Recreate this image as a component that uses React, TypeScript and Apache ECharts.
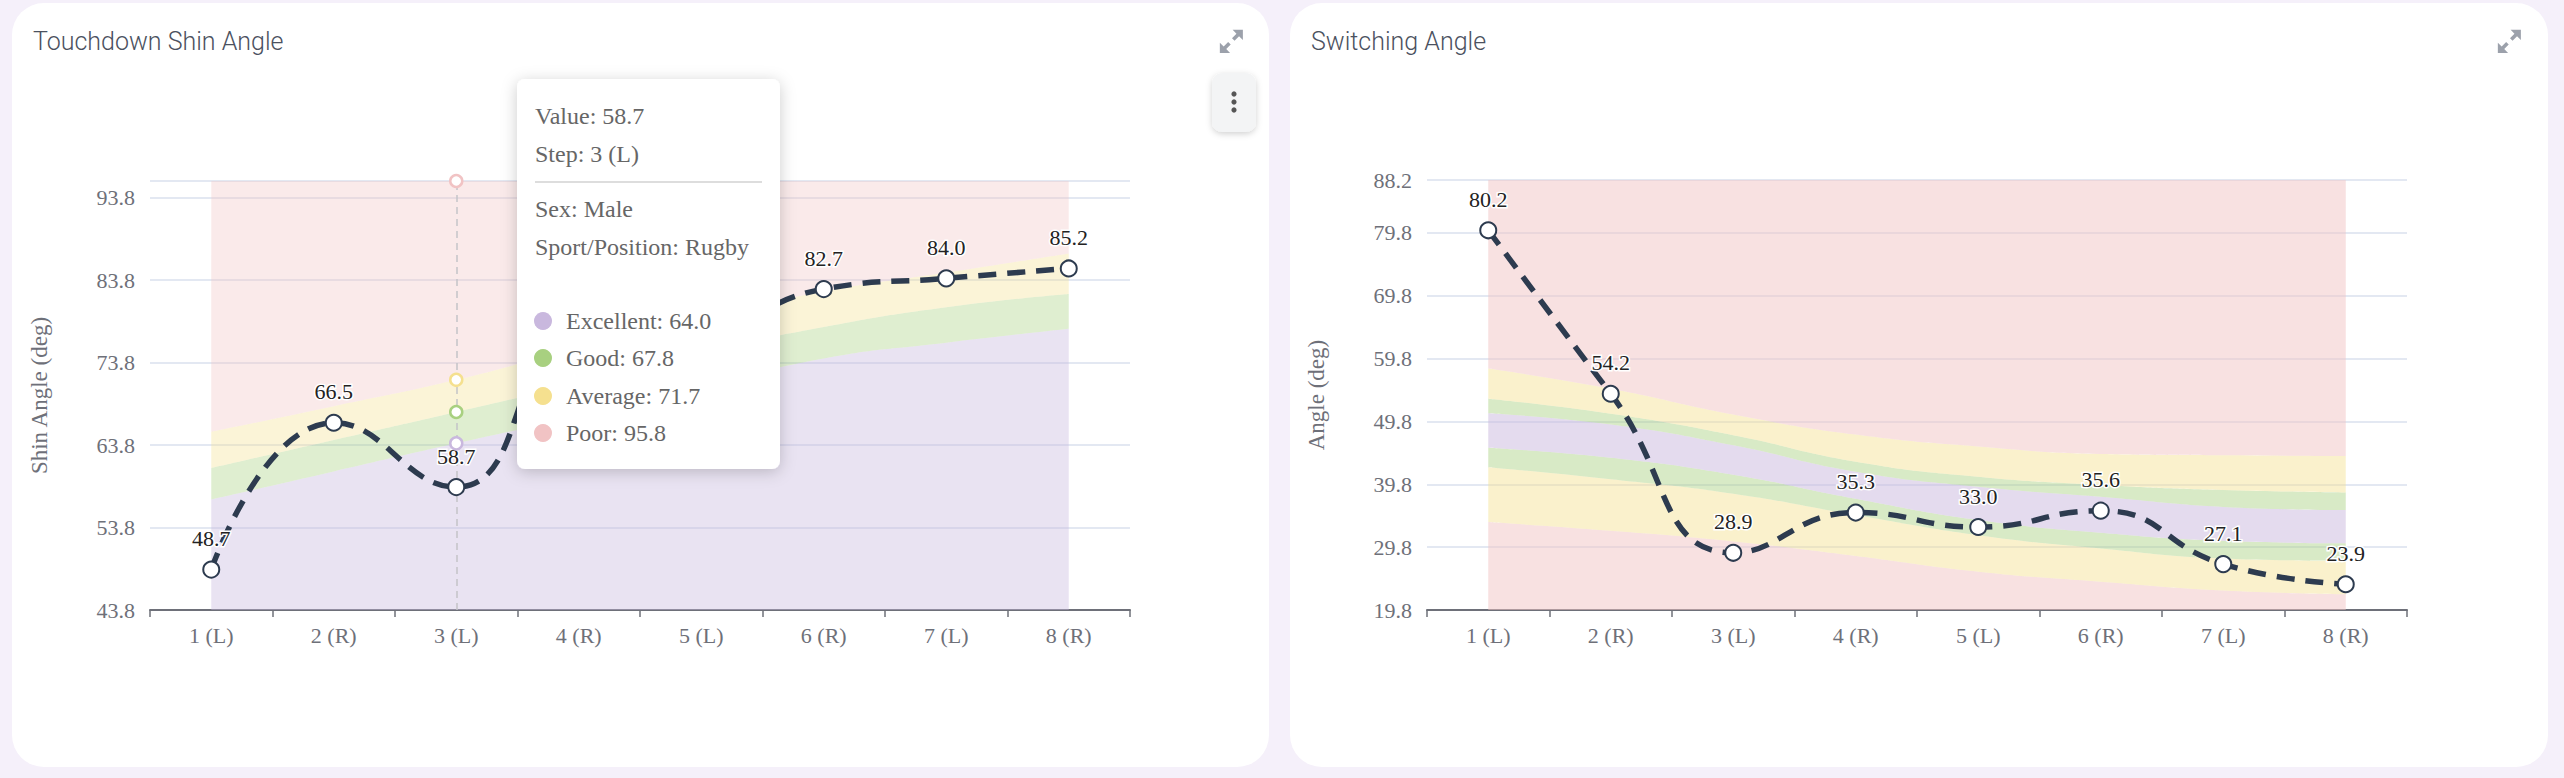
import React, { useEffect, useRef } from "react";
import * as echarts from "echarts";

// ---------- data ----------
const steps = ["1 (L)", "2 (R)", "3 (L)", "4 (R)", "5 (L)", "6 (R)", "7 (L)", "8 (R)"];

// Touchdown Shin Angle
const shinValues = [48.7, 66.5, 58.7, 76.8, 77.6, 82.7, 84.0, 85.2];
const shinExcellent = [57.2, 60.6, 64.0, 67.3, 70.8, 74.3, 76.2, 77.9];
const shinGood = [61.0, 64.4, 67.8, 71.3, 75.0, 78.1, 80.5, 82.1];
const shinAverage = [65.4, 68.5, 71.7, 75.6, 79.2, 82.4, 84.7, 87.0];
const shinPoor = [95.8, 95.8, 95.8, 95.8, 95.8, 95.8, 95.8, 95.8];
const shinAxis = { min: 43.8, max: 95.8, interval: 10 };
// labels of steps hidden behind the tooltip box in the reference
const shinHiddenLabels = [3, 4];

// Switching Angle (bands from bottom to top)
const switchValues = [80.2, 54.2, 28.9, 35.3, 33.0, 35.6, 27.1, 23.9];
const switchAvgLow = [33.8, 32.4, 30.7, 28.4, 25.9, 24.3, 22.9, 22.3];
const switchGoodLow = [42.5, 40.6, 38.3, 34.9, 31.7, 29.6, 28.0, 27.6];
const switchExcLow = [45.6, 44.0, 41.3, 37.5, 34.1, 32.1, 30.8, 30.4];
const switchExcHigh = [51.1, 49.3, 46.0, 41.8, 39.4, 37.8, 36.2, 35.7];
const switchGoodHigh = [53.4, 51.0, 47.6, 43.4, 41.0, 39.7, 38.9, 38.5];
const switchAvgHigh = [58.2, 55.0, 50.9, 47.7, 45.8, 44.6, 44.4, 44.3];
const switchPoorHigh = [88.2, 88.2, 88.2, 88.2, 88.2, 88.2, 88.2, 88.2];
const switchAxis = { min: 19.8, max: 88.2, interval: 10 };

// tooltip content (hovered step 3)
const tipIndex = 2;
const tipInfo = ["Sex: Male", "Sport/Position: Rugby"];

// ---------- styles ----------
const SERIF = "'Liberation Serif', 'Times New Roman', serif";
const NAVY = "#2d3b4f";
const AXIS_GRAY = "#6e7079";
const C_EXC = "#c9b8de";
const C_GOOD = "#a8d080";
const C_AVG = "#f5e08f";
const C_POOR = "#f1c3c4";

const EXPAND_D =
  "M13 3H21V11L18 8L14.5 11.5L12.5 9.5L16 6Z M11 21H3V13L6 16L9.5 12.5L11.5 14.5L8 18Z";
echarts.graphic.registerShape("expandIcon", echarts.graphic.extendPath(EXPAND_D, {}) as any);

function deltas(layers: number[][]): number[][] {
  return layers.map((layer, i) =>
    layer.map((v, j) => (i === 0 ? v : +(v - layers[i - 1][j]).toFixed(4)))
  );
}

function baseAxes(yName: string, axis: { min: number; max: number; interval: number }, showMax: boolean) {
  return {
    xAxis: {
      type: "category",
      data: steps,
      boundaryGap: true,
      axisLine: { show: true, lineStyle: { color: AXIS_GRAY, width: 2 } },
      axisTick: { show: true, length: 7, lineStyle: { color: AXIS_GRAY, width: 1.5 } },
      axisLabel: { fontFamily: SERIF, fontSize: 22, color: AXIS_GRAY, margin: 14 },
      splitLine: { show: false },
    },
    yAxis: {
      type: "value",
      min: axis.min,
      max: axis.max,
      interval: axis.interval,
      name: yName,
      nameLocation: "middle",
      nameRotate: 90,
      nameGap: 99,
      nameTextStyle: { fontFamily: SERIF, fontSize: 23, color: AXIS_GRAY },
      axisLine: { show: false },
      axisTick: { show: false },
      axisLabel: {
        fontFamily: SERIF,
        fontSize: 22,
        color: AXIS_GRAY,
        margin: 15,
        showMinLabel: true,
        showMaxLabel: showMax,
        formatter: (v: number) => v.toFixed(1),
      },
      splitLine: { show: true, lineStyle: { color: "#e3e8f2", width: 2 } },
    },
  };
}

function mainLine(values: number[], hidden: number[] = [], extra: any = {}) {
  return {
    type: "line",
    name: "Value",
    data: values.map((v, i) => (hidden.includes(i) ? { value: v, label: { show: false } } : v)),
    smooth: true,
    z: 6,
    symbol: "emptyCircle",
    symbolSize: 16,
    itemStyle: { color: NAVY, borderColor: NAVY, borderWidth: 3.5 },
    lineStyle: { color: NAVY, width: 5.5, type: [18, 11] },
    label: {
      show: true,
      position: "top",
      distance: 11,
      fontFamily: SERIF,
      fontSize: 22,
      color: "#222",
      textBorderColor: "#fff",
      textBorderWidth: 3,
      formatter: (p: any) => Number(p.value).toFixed(1),
    },
    ...extra,
  };
}

function band(name: string, data: number[], color: string, opacity: number, stack: string) {
  return {
    type: "line",
    name,
    data,
    stack,
    smooth: true,
    symbol: "none",
    showSymbol: false,
    z: 2,
    itemStyle: { color },
    lineStyle: { width: 0, color },
    areaStyle: { color, opacity },
  };
}

function titleOpt(text: string) {
  return {
    text,
    left: 21,
    top: 26,
    padding: 0,
    textStyle: { fontFamily: "Roboto, 'Noto Sans', sans-serif", fontWeight: 300, fontSize: 25, color: "#4b5160" },
  };
}

function expandIcon() {
  return {
    type: "expandIcon",
    x: 1204,
    y: 23,
    scaleX: 1.28,
    scaleY: 1.28,
    z: 100,
    style: { fill: "#9ca1ab" },
  };
}

function leftOption(): any {
  const bandLayers = deltas([shinExcellent, shinGood, shinAverage, shinPoor]);
  const tipX = 505;
  const tipY = 76;
  const tipW = 263;
  const tipH = 390;
  const textX = tipX + 18;
  const tStyle = (text: string, y: number, x = textX) => ({
    type: "text",
    x,
    y,
    z: 102,
    style: {
      text,
      fontFamily: SERIF,
      fontSize: 24,
      fill: "#666",
      align: "left",
      verticalAlign: "middle",
      textAlign: "left",
      textVerticalAlign: "middle",
    },
  });
  const legendRows = [
    { label: "Excellent", v: shinExcellent[tipIndex], c: C_EXC, y: 318 },
    { label: "Good", v: shinGood[tipIndex], c: C_GOOD, y: 355 },
    { label: "Average", v: shinAverage[tipIndex], c: C_AVG, y: 393 },
    { label: "Poor", v: shinPoor[tipIndex], c: C_POOR, y: 430 },
  ];
  const graphics: any[] = [
    expandIcon(),
    {
      type: "rect",
      z: 100,
      shape: { x: 1200, y: 70, width: 44, height: 59, r: 10 },
      style: { fill: "#f3f4f5", shadowBlur: 6, shadowColor: "rgba(0,0,0,0.18)", shadowOffsetY: 2 },
    },
    ...[91, 99, 107].map((cy) => ({
      type: "circle",
      z: 101,
      shape: { cx: 1222, cy, r: 2.6 },
      style: { fill: "#555" },
    })),
    {
      type: "rect",
      z: 100,
      shape: { x: tipX, y: tipY, width: tipW, height: tipH, r: 8 },
      style: { fill: "#fff", shadowBlur: 16, shadowColor: "rgba(0,0,0,0.2)", shadowOffsetY: 3 },
    },
    tStyle(`Value: ${shinValues[tipIndex].toFixed(1)}`, 113),
    tStyle(`Step: ${steps[tipIndex]}`, 151),
    {
      type: "line",
      z: 101,
      shape: { x1: textX, y1: 179, x2: tipX + tipW - 18, y2: 179 },
      style: { stroke: "#bbb", lineWidth: 1.2 },
    },
    tStyle(tipInfo[0], 206),
    tStyle(tipInfo[1], 244),
    ...legendRows.flatMap((r) => [
      {
        type: "circle",
        z: 101,
        shape: { cx: textX + 8, cy: r.y, r: 9 },
        style: { fill: r.c },
      },
      tStyle(`${r.label}: ${r.v.toFixed(1)}`, r.y, textX + 31),
    ]),
  ];

  return {
    animation: false,
    title: titleOpt("Touchdown Shin Angle"),
    grid: { left: 138, top: 178, width: 980, height: 429, containLabel: false, outerBoundsMode: "none" },
    ...baseAxes("Shin Angle (deg)", shinAxis, false),
    series: [
      band("Excellent", bandLayers[0], C_EXC, 0.4, "shin"),
      band("Good", bandLayers[1], C_GOOD, 0.37, "shin"),
      band("Average", bandLayers[2], C_AVG, 0.36, "shin"),
      band("Poor", bandLayers[3], C_POOR, 0.35, "shin"),
      mainLine(shinValues, shinHiddenLabels, {
        markLine: {
          silent: true,
          z: 5,
          symbol: "none",
          label: { show: false },
          lineStyle: { color: "#c4c4c8", width: 1.5, type: [7, 5] },
          data: [{ xAxis: steps[tipIndex] }],
        },
        markPoint: {
          z: 7,
          silent: true,
          symbol: "circle",
          symbolSize: 12,
          label: { show: false },
          data: [
            { coord: [steps[tipIndex], shinExcellent[tipIndex]], itemStyle: { color: "#fff", borderColor: C_EXC, borderWidth: 2.5 } },
            { coord: [steps[tipIndex], shinGood[tipIndex]], itemStyle: { color: "#fff", borderColor: C_GOOD, borderWidth: 2.5 } },
            { coord: [steps[tipIndex], shinAverage[tipIndex]], itemStyle: { color: "#fff", borderColor: C_AVG, borderWidth: 2.5 } },
            { coord: [steps[tipIndex], shinPoor[tipIndex]], itemStyle: { color: "#fff", borderColor: C_POOR, borderWidth: 2.5 } },
          ],
        },
      }),
    ],
    graphic: graphics,
  };
}

function rightOption(): any {
  const layers = deltas([
    switchAvgLow,
    switchGoodLow,
    switchExcLow,
    switchExcHigh,
    switchGoodHigh,
    switchAvgHigh,
    switchPoorHigh,
  ]);
  const colors = [C_POOR, C_AVG, C_GOOD, C_EXC, C_GOOD, C_AVG, C_POOR];
  const names = ["Poor", "Average", "Good", "Excellent", "Good", "Average", "Poor"];
  const opac = [0.5, 0.45, 0.45, 0.5, 0.45, 0.45, 0.5];
  return {
    animation: false,
    title: titleOpt("Switching Angle"),
    grid: { left: 137, top: 177, width: 980, height: 430, containLabel: false, outerBoundsMode: "none" },
    ...baseAxes("Angle (deg)", switchAxis, true),
    series: [
      ...layers.map((d, i) => band(names[i], d, colors[i], opac[i], "switch")),
      mainLine(switchValues),
    ],
    graphic: [expandIcon()],
  };
}

function Chart({ option }: { option: () => any }) {
  const ref = useRef<HTMLDivElement>(null);
  useEffect(() => {
    if (!ref.current) return;
    const chart = echarts.init(ref.current, undefined, { renderer: "svg" });
    chart.setOption(option());
    return () => chart.dispose();
  }, [option]);
  return <div ref={ref} style={{ width: "100%", height: "100%" }} />;
}

const cardStyle = (left: number, width: number): React.CSSProperties => ({
  position: "absolute",
  left,
  top: 3,
  width,
  height: 764,
  background: "#ffffff",
  borderRadius: 32,
  overflow: "hidden",
});

export default function App() {
  return (
    <div
      style={{
        position: "fixed",
        left: 0,
        top: 0,
        width: 2564,
        height: 778,
        background: "#f5f0fa",
        margin: 0,
        overflow: "hidden",
      }}
    >
      <div style={cardStyle(12, 1257)}>
        <Chart option={leftOption} />
      </div>
      <div style={cardStyle(1290, 1258)}>
        <Chart option={rightOption} />
      </div>
    </div>
  );
}
